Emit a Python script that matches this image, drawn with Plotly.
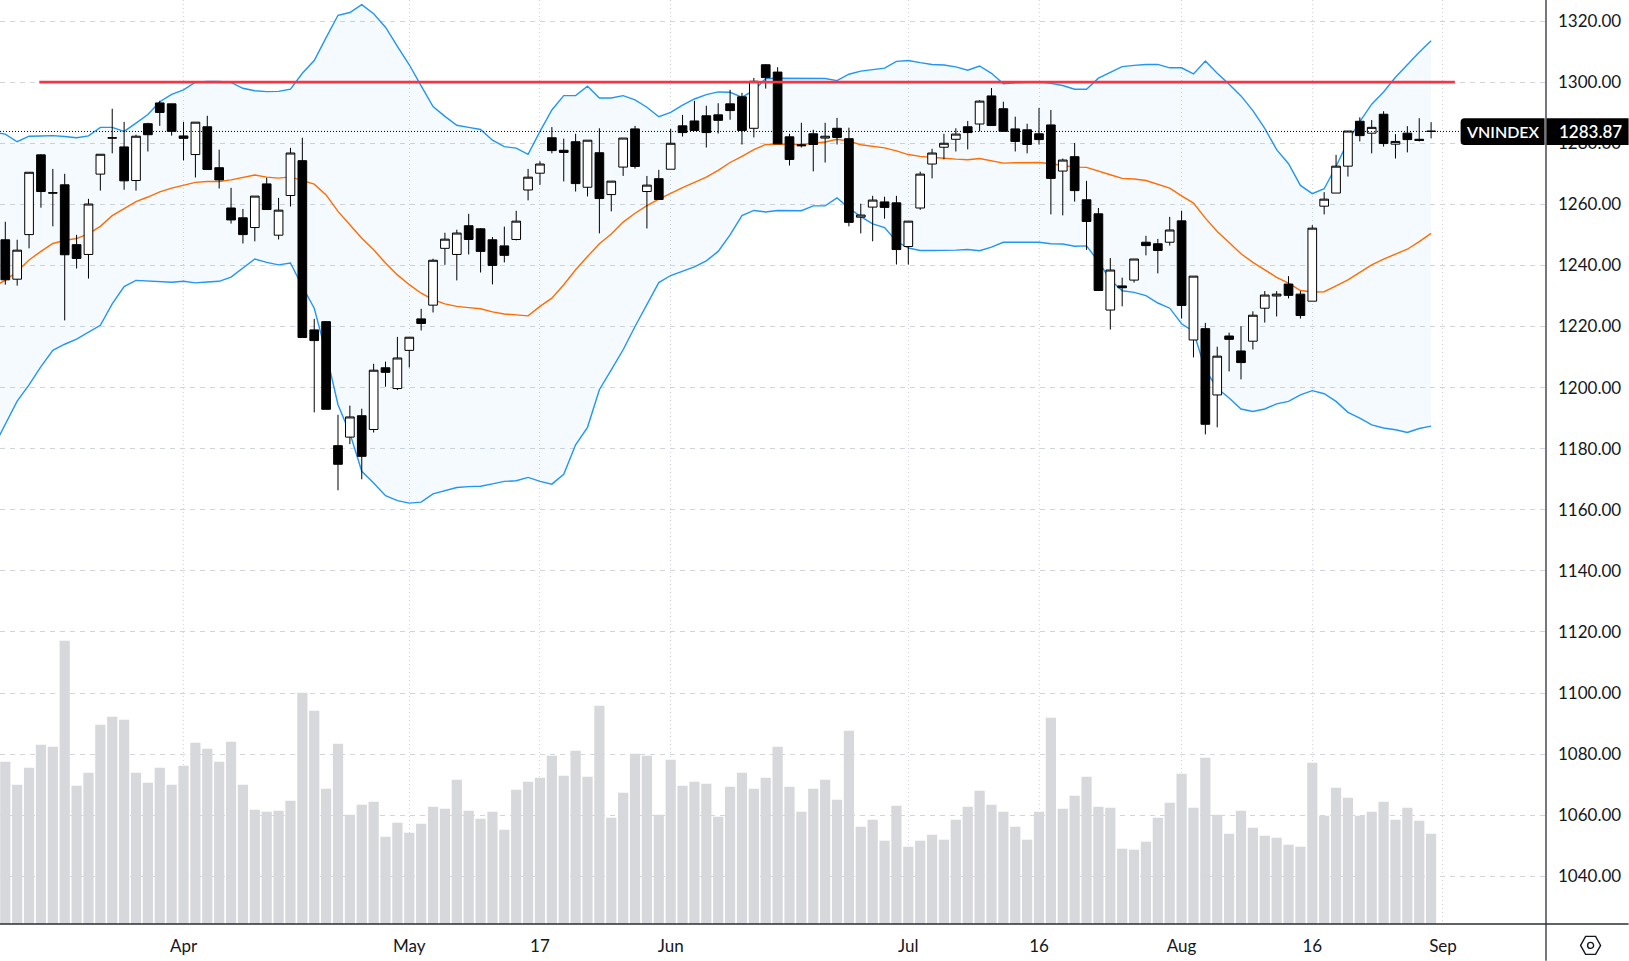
import plotly.graph_objects as go

# daily candles
open_ = [1248.4, 1235.5, 1250.1, 1276.2, 1263.8, 1266.4, 1246.8, 1243.6, 1269.9, 1281.8,
         1278.8, 1267.8, 1286.4, 1293.2, 1292.9, 1282.4, 1276.3, 1285.4, 1272.0, 1258.8,
         1255.6, 1252.4, 1266.7, 1249.9, 1262.9, 1274.3, 1218.9, 1221.6, 1181.0, 1183.8,
         1190.8, 1186.3, 1206.5, 1199.7, 1212.2, 1222.5, 1227.0, 1245.6, 1243.6, 1253.0,
         1252.0, 1248.4, 1246.4, 1248.5, 1264.7, 1270.2, 1281.8, 1277.7, 1280.5, 1265.6,
         1276.9, 1263.2, 1272.2, 1284.7, 1264.2, 1268.4, 1271.5, 1285.7, 1287.3, 1289.0,
         1289.3, 1292.9, 1295.2, 1284.9, 1305.7, 1303.3, 1282.1, 1279.5, 1283.1, 1281.7,
         1284.9, 1281.5, 1255.8, 1259.1, 1260.8, 1260.5, 1246.2, 1258.8, 1273.2, 1278.7,
         1281.3, 1285.4, 1286.3, 1295.5, 1291.3, 1284.7, 1284.4, 1283.1, 1286.0, 1270.9,
         1275.6, 1261.5, 1256.9, 1225.4, 1233.3, 1235.2, 1247.6, 1247.1, 1247.6, 1254.6,
         1215.6, 1219.3, 1197.6, 1216.9, 1212.0, 1215.2, 1226.0, 1230.0, 1233.9, 1230.6,
         1228.3, 1259.4, 1263.7, 1272.5, 1287.2, 1283.3, 1289.5, 1279.7, 1283.3, 1281.3,
         1284.0]
high = [1254.3, 1248.4, 1270.5, 1276.4, 1271.6, 1270.0, 1250.0, 1261.8, 1276.4, 1291.3,
        1287.0, 1282.8, 1286.7, 1293.9, 1292.9, 1287.0, 1286.9, 1289.0, 1277.9, 1265.4,
        1258.5, 1262.7, 1268.7, 1262.1, 1278.5, 1281.8, 1222.5, 1221.6, 1191.1, 1194.1,
        1193.1, 1207.8, 1208.5, 1216.6, 1216.5, 1225.8, 1242.2, 1250.7, 1251.7, 1256.9,
        1252.2, 1249.3, 1252.7, 1257.9, 1271.6, 1274.1, 1285.3, 1281.5, 1283.1, 1281.0,
        1284.9, 1267.6, 1281.7, 1285.7, 1269.3, 1271.3, 1284.7, 1289.3, 1293.9, 1292.3,
        1293.1, 1297.5, 1296.5, 1301.4, 1305.9, 1304.9, 1283.1, 1286.7, 1284.4, 1286.7,
        1288.3, 1285.1, 1260.2, 1262.8, 1262.5, 1262.8, 1254.5, 1270.7, 1278.2, 1283.1,
        1284.9, 1287.3, 1294.1, 1298.1, 1293.6, 1288.7, 1286.4, 1291.6, 1290.9, 1275.0,
        1280.1, 1267.7, 1258.8, 1242.4, 1236.0, 1242.1, 1249.7, 1248.7, 1255.9, 1257.9,
        1236.5, 1221.2, 1213.4, 1218.0, 1220.1, 1225.0, 1231.6, 1231.6, 1236.5, 1231.6,
        1253.2, 1264.0, 1276.2, 1284.0, 1288.5, 1287.6, 1290.5, 1283.0, 1285.6, 1288.2,
        1286.9]
low = [1233.7, 1233.4, 1245.6, 1258.9, 1252.8, 1222.0, 1239.0, 1235.7, 1264.5, 1276.7,
       1264.8, 1264.5, 1277.3, 1285.7, 1282.5, 1274.4, 1268.8, 1271.4, 1265.2, 1253.7,
       1247.2, 1247.9, 1258.3, 1248.5, 1259.3, 1216.4, 1191.9, 1192.9, 1166.4, 1181.5,
       1170.0, 1185.3, 1200.3, 1199.2, 1206.6, 1218.7, 1224.6, 1240.2, 1235.1, 1243.6,
       1237.7, 1233.8, 1241.0, 1248.2, 1261.3, 1266.4, 1276.7, 1267.5, 1264.2, 1262.6,
       1250.5, 1257.7, 1269.3, 1271.7, 1252.1, 1261.6, 1271.5, 1282.2, 1284.0, 1278.6,
       1283.2, 1287.7, 1279.6, 1281.9, 1297.9, 1279.8, 1272.7, 1278.6, 1270.8, 1273.7,
       1279.6, 1252.8, 1250.5, 1247.9, 1255.3, 1240.3, 1240.3, 1258.2, 1268.5, 1274.7,
       1277.3, 1278.0, 1283.9, 1285.8, 1283.9, 1277.3, 1276.7, 1279.6, 1256.7, 1256.4,
       1260.9, 1245.1, 1231.8, 1219.0, 1226.6, 1234.4, 1243.3, 1237.4, 1246.5, 1222.6,
       1209.9, 1184.7, 1187.0, 1205.3, 1202.7, 1212.5, 1221.3, 1223.3, 1229.2, 1222.6,
       1228.3, 1256.7, 1263.7, 1269.1, 1280.6, 1276.7, 1278.9, 1275.0, 1277.0, 1280.6,
       1281.6]
close = [1235.3, 1245.0, 1270.5, 1264.2, 1263.7, 1243.5, 1242.3, 1260.1, 1276.4, 1281.7,
         1267.7, 1282.3, 1282.8, 1290.1, 1283.9, 1281.6, 1286.9, 1271.4, 1268.0, 1254.9,
         1250.1, 1262.7, 1258.3, 1258.1, 1276.8, 1216.4, 1215.4, 1192.9, 1174.9, 1190.4,
         1177.5, 1205.7, 1205.0, 1209.7, 1216.5, 1221.0, 1241.7, 1248.6, 1250.6, 1248.5,
         1244.6, 1240.0, 1243.3, 1254.5, 1268.9, 1273.2, 1277.6, 1277.0, 1266.8, 1281.0,
         1261.9, 1267.6, 1281.7, 1272.4, 1266.3, 1261.6, 1280.0, 1283.5, 1284.2, 1283.5,
         1287.5, 1290.7, 1284.2, 1300.3, 1301.5, 1279.8, 1274.7, 1279.2, 1279.6, 1282.3,
         1281.9, 1254.1, 1256.5, 1261.4, 1259.0, 1245.2, 1254.5, 1269.9, 1276.8, 1280.0,
         1283.0, 1283.5, 1293.8, 1285.8, 1283.9, 1280.6, 1279.6, 1281.2, 1268.5, 1274.5,
         1264.5, 1254.4, 1231.8, 1238.5, 1232.7, 1242.1, 1246.5, 1244.9, 1251.6, 1226.9,
         1236.5, 1188.0, 1210.3, 1215.8, 1208.2, 1223.7, 1230.3, 1230.6, 1230.2, 1223.6,
         1252.2, 1261.7, 1272.5, 1284.0, 1282.5, 1285.2, 1279.9, 1280.6, 1281.2, 1280.9,
         1283.87]

# volume in millions (rough, scale is hidden on the chart)
volume = [487, 418, 469, 538, 532, 850, 415, 454, 598, 622, 613, 454, 424, 469, 418, 475,
          544, 526, 487, 547, 418, 343, 337, 340, 370, 694, 640, 406, 541, 328, 358, 367,
          262, 304, 274, 301, 352, 346, 433, 340, 316, 337, 283, 403, 427, 439, 505, 445,
          520, 442, 655, 319, 394, 511, 505, 328, 493, 415, 427, 421, 322, 412, 454, 406,
          439, 532, 412, 337, 406, 433, 373, 580, 292, 313, 250, 355, 232, 250, 268, 253,
          313, 352, 400, 358, 337, 292, 253, 337, 619, 346, 385, 442, 352, 349, 226, 223,
          247, 319, 364, 451, 349, 499, 328, 271, 340, 289, 265, 259, 238, 232, 484, 325,
          409, 379, 325, 337, 367, 313, 349, 310, 271]

# bollinger bands, first point is the bar just off the left edge
bb_upper = [1283.6, 1283.0, 1280.5, 1282.3, 1282.4, 1282.5, 1282.2, 1281.8, 1282.4, 1285.2,
            1285.2, 1283.9, 1286.6, 1289.4, 1293.6, 1296.0, 1297.5, 1300.0, 1300.2, 1300.2,
            1299.9, 1298.0, 1297.2, 1296.9, 1297.0, 1297.7, 1302.9, 1307.1, 1314.6, 1321.9,
            1322.8, 1325.4, 1322.4, 1318.0, 1311.7, 1305.7, 1298.8, 1292.0, 1288.8, 1285.9,
            1285.2, 1284.5, 1281.0, 1278.9, 1278.4, 1276.4, 1283.9, 1290.9, 1295.6, 1295.6,
            1298.7, 1294.8, 1294.8, 1295.6, 1294.2, 1291.8, 1288.7, 1290.1, 1292.5, 1294.5,
            1295.9, 1296.8, 1296.7, 1295.1, 1297.3, 1301.2, 1301.3, 1301.3, 1301.3, 1301.2,
            1301.2, 1300.5, 1302.6, 1303.6, 1304.0, 1304.6, 1306.8, 1307.1, 1306.4, 1305.8,
            1305.6, 1305.0, 1303.9, 1305.3, 1302.9, 1299.5, 1299.8, 1300.0, 1300.1, 1299.6,
            1298.9, 1297.7, 1297.7, 1301.3, 1303.3, 1305.1, 1305.5, 1305.8, 1305.8, 1304.7,
            1304.7, 1302.7, 1306.9, 1302.9, 1299.3, 1295.5, 1290.7, 1284.9, 1277.9, 1273.3,
            1266.2, 1263.5, 1265.1, 1272.4, 1280.6, 1287.1, 1292.8, 1296.8, 1301.6, 1305.8,
            1309.8, 1313.6]
bb_middle = [1233.1, 1235.1, 1238.0, 1241.8, 1244.6, 1247.2, 1248.2, 1248.8, 1250.4, 1252.8,
             1256.3, 1258.5, 1260.9, 1262.4, 1264.1, 1265.3, 1266.2, 1267.2, 1267.5, 1267.5,
             1268.0, 1268.8, 1269.6, 1268.9, 1268.6, 1269.0, 1267.8, 1266.6, 1263.1, 1257.7,
             1253.3, 1248.9, 1245.1, 1240.8, 1236.9, 1233.7, 1230.9, 1228.8, 1227.4, 1226.6,
             1226.2, 1225.8, 1224.8, 1224.1, 1223.8, 1223.5, 1226.6, 1229.3, 1233.7, 1238.6,
             1242.9, 1247.1, 1250.3, 1254.2, 1257.1, 1259.6, 1261.7, 1263.7, 1265.5, 1267.2,
             1268.9, 1271.1, 1273.7, 1275.7, 1277.9, 1279.6, 1279.7, 1279.7, 1279.6, 1280.0,
             1280.4, 1281.3, 1280.7, 1279.5, 1278.9, 1278.5, 1277.5, 1276.3, 1275.7, 1275.3,
             1275.1, 1274.8, 1274.6, 1275.0, 1274.3, 1273.5, 1273.6, 1273.7, 1273.7, 1273.3,
             1272.7, 1272.2, 1272.1, 1270.8, 1269.7, 1268.5, 1268.3, 1267.8, 1266.6, 1265.3,
             1262.8, 1260.4, 1255.5, 1251.1, 1247.5, 1243.8, 1241.0, 1238.6, 1236.1, 1234.2,
             1231.8, 1231.3, 1231.4, 1233.3, 1235.3, 1237.7, 1240.2, 1242.1, 1243.8, 1245.3,
             1247.8, 1250.5]
bb_lower = [1180.5, 1187.8, 1195.6, 1200.9, 1206.9, 1212.2, 1214.2, 1215.9, 1218.2, 1220.4,
            1227.4, 1233.1, 1235.1, 1234.9, 1234.5, 1234.5, 1234.8, 1234.3, 1234.6, 1234.8,
            1236.2, 1239.1, 1242.1, 1241.0, 1240.2, 1240.8, 1233.1, 1226.0, 1211.3, 1194.4,
            1185.1, 1172.6, 1168.8, 1164.6, 1163.0, 1162.2, 1162.5, 1165.2, 1166.2, 1167.3,
            1167.6, 1167.7, 1168.5, 1169.3, 1169.5, 1170.6, 1169.3, 1168.4, 1171.6, 1181.3,
            1187.0, 1199.3, 1205.8, 1212.4, 1220.0, 1227.1, 1234.4, 1236.7, 1238.0, 1239.5,
            1241.5, 1244.6, 1250.0, 1256.3, 1258.0, 1257.5, 1258.0, 1257.9, 1257.9, 1259.5,
            1259.5, 1262.1, 1258.8, 1256.0, 1253.6, 1252.4, 1247.9, 1245.7, 1244.9, 1244.9,
            1244.9, 1245.0, 1245.2, 1244.8, 1246.0, 1247.6, 1247.6, 1247.6, 1247.6, 1247.1,
            1247.0, 1246.3, 1246.4, 1241.3, 1235.3, 1231.7, 1231.2, 1230.1, 1227.7, 1226.0,
            1220.9, 1218.4, 1205.8, 1199.8, 1196.6, 1193.0, 1192.2, 1193.0, 1194.7, 1195.5,
            1197.6, 1199.0, 1198.0, 1195.5, 1191.9, 1190.0, 1187.8, 1186.8, 1186.2, 1185.3,
            1186.6, 1187.4]

# horizontal resistance line drawn by hand on the chart
resistance_x = [2.86, 122.0]
resistance_y = [1300, 1300]
last_price = 1283.87

month_ticks = [15, 34, 45, 56, 76, 87, 99, 110, 121]
month_labels = ["Apr", "May", "17", "Jun", "Jul", "16", "Aug", "16", "Sep"]
price_ticks = list(range(1040, 1321, 20))

bars = list(range(len(close)))
bb_x = list(range(-1, len(close)))

W, H = 1629, 961
PLOT_R, PLOT_B = 1546.4, 924.3
FONT = "Lato"
TEXT = "#131722"


def px_x(x):
    return x / PLOT_R


def px_y(y):
    return (PLOT_B - y) / PLOT_B


def path(points):
    return "M " + " L ".join(f"{px_x(x)},{px_y(y)}" for x, y in points) + " Z"


fig = go.Figure()

# bands go on the base axis so the candles sit on top of them
fig.add_trace(go.Scatter(x=bb_x, y=bb_upper, mode="lines", line=dict(color="#2196f3", width=1.4), yaxis="y"))
fig.add_trace(go.Scatter(x=bb_x, y=bb_lower, mode="lines", line=dict(color="#2196f3", width=1.4),
                         fill="tonexty", fillcolor="rgba(33,150,243,0.05)", yaxis="y"))
fig.add_trace(go.Scatter(x=bb_x, y=bb_middle, mode="lines", line=dict(color="#ff6d00", width=1.4), yaxis="y"))

fig.add_trace(go.Bar(x=bars, y=volume, marker=dict(color="#d7d8dc", line=dict(width=0)), width=0.86, yaxis="y2"))

fig.add_trace(go.Candlestick(
    x=bars, open=open_, high=high, low=low, close=close, whiskerwidth=0, yaxis="y3",
    increasing=dict(fillcolor="#ffffff", line=dict(color="#000000", width=1)),
    decreasing=dict(fillcolor="#000000", line=dict(color="#000000", width=1)),
))

fig.add_trace(go.Scatter(x=resistance_x, y=resistance_y, mode="lines",
                         line=dict(color="#f23645", width=2.7), yaxis="y4"))

price_range = [1024.4, 1326.9]
hidden = dict(overlaying="y", side="right", visible=False, showgrid=False)

fig.update_layout(
    width=W, height=H,
    margin=dict(l=0, r=W - PLOT_R, t=0, b=H - PLOT_B),
    paper_bgcolor="#ffffff", plot_bgcolor="#ffffff",
    showlegend=False, boxgap=0.27, boxgroupgap=0,
    font=dict(family=FONT, size=17, color=TEXT),
    xaxis=dict(
        range=[-0.446, 129.67], rangeslider=dict(visible=False),
        tickmode="array", tickvals=month_ticks, ticktext=month_labels, ticks="",
        ticklabelstandoff=10, showline=False, zeroline=False,
        showgrid=True, gridcolor="#d1d4dc", griddash="1px,3px", gridwidth=1,
    ),
    yaxis=dict(
        side="right", range=price_range, tickmode="array", tickvals=price_ticks,
        tickformat=".2f", ticks="", ticklabelstandoff=11, showline=False, zeroline=False,
        showgrid=True, gridcolor="#d1d4dc", griddash="5px,5px", gridwidth=1,
    ),
    yaxis2=dict(range=[0, 2773], **hidden),
    yaxis3=dict(range=price_range, **hidden),
    yaxis4=dict(range=price_range, **hidden),
)

r = 4
label_top, label_bot = 118.3, 145.0
label_left, label_right = 1461.0, 1545.0
vnindex_box = (
    f"M {px_x(label_left + r)},{px_y(label_top)} L {px_x(label_right)},{px_y(label_top)} "
    f"L {px_x(label_right)},{px_y(label_bot)} L {px_x(label_left + r)},{px_y(label_bot)} "
    f"Q {px_x(label_left)},{px_y(label_bot)} {px_x(label_left)},{px_y(label_bot - r)} "
    f"L {px_x(label_left)},{px_y(label_top + r)} "
    f"Q {px_x(label_left)},{px_y(label_top)} {px_x(label_left + r)},{px_y(label_top)} Z"
)

axis_color = "#2a2e39"
hex_x, hex_y = 1591.0, 945.7
hexagon = path([(hex_x - 10, hex_y), (hex_x - 5, hex_y - 9), (hex_x + 5, hex_y - 9),
                (hex_x + 10, hex_y), (hex_x + 5, hex_y + 9), (hex_x - 5, hex_y + 9)])

fig.update_layout(shapes=[
    # last price line
    dict(type="line", xref="paper", yref="y", x0=0, x1=px_x(label_left), y0=last_price, y1=last_price,
         line=dict(color="#000000", width=1, dash="1px,2px")),
    # frame of the price and time scales
    dict(type="line", xref="paper", yref="paper", x0=px_x(PLOT_R), x1=px_x(PLOT_R), y0=px_y(0), y1=px_y(H),
         line=dict(color=axis_color, width=1.3)),
    dict(type="line", xref="paper", yref="paper", x0=0, x1=px_x(W), y0=0, y1=0,
         line=dict(color=axis_color, width=1.3)),
    # price labels
    dict(type="path", xref="paper", yref="paper", path=vnindex_box, fillcolor="#000000", line=dict(width=0)),
    dict(type="rect", xref="paper", yref="paper", x0=px_x(1547), x1=px_x(W), y0=px_y(label_top), y1=px_y(label_bot),
         fillcolor="#000000", line=dict(width=0)),
    # settings icon
    dict(type="path", xref="paper", yref="paper", path=hexagon, line=dict(color=TEXT, width=1.4)),
    dict(type="circle", xref="paper", yref="paper", x0=px_x(hex_x - 3), x1=px_x(hex_x + 3),
         y0=px_y(hex_y - 3), y1=px_y(hex_y + 3), line=dict(color=TEXT, width=1.4)),
])

fig.add_annotation(text="VNINDEX", xref="paper", yref="y", x=px_x(1503), y=last_price, showarrow=False,
                   font=dict(family=FONT, size=16, color="#ffffff", weight=600), xanchor="center", yanchor="middle")
fig.add_annotation(text=f"{last_price:.2f}", xref="paper", yref="y", x=px_x(1558), y=last_price, showarrow=False,
                   font=dict(family=FONT, size=17, color="#ffffff", weight=600), xanchor="left", yanchor="middle", xshift=-1)

fig.write_html("out.html", config=dict(displayModeBar=False),
               post_script="document.body.style.margin='0';")
